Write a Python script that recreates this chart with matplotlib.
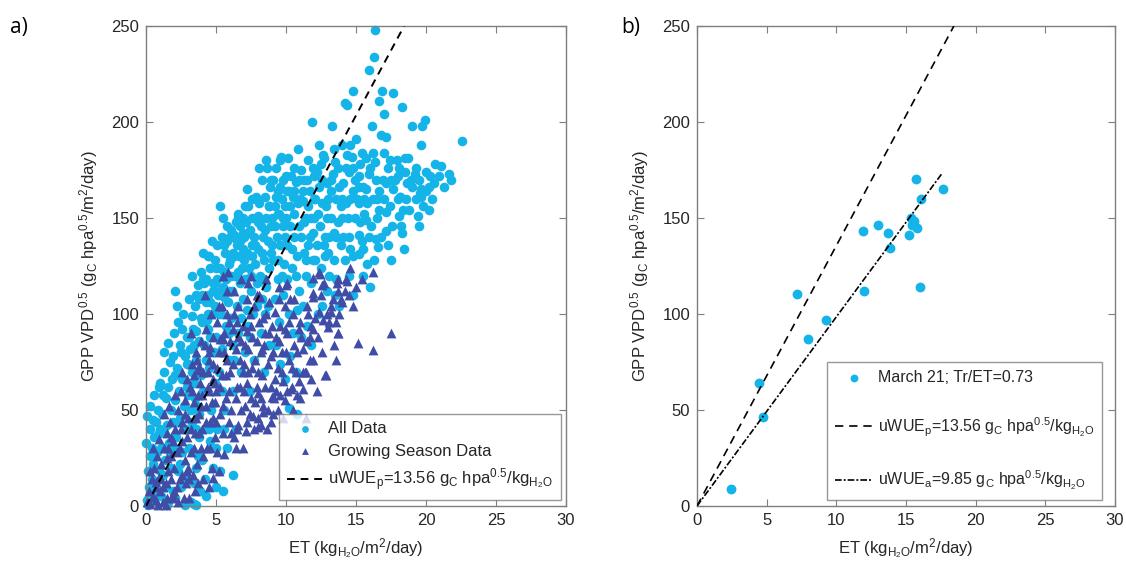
import numpy as np
import matplotlib
matplotlib.use("Agg")
import matplotlib.pyplot as plt

plt.rcParams['font.family'] = ['Liberation Sans', 'DejaVu Sans']
plt.rcParams['mathtext.default'] = 'regular'

# ---- panel a: all data (ET, GPP*VPD^0.5) ----
all_data = [
    # 0-1
    (0.0,33),(0.05,47),(0.1,3),(0.15,18),(0.2,10),(0.25,26),(0.3,40),(0.35,6),(0.4,14),(0.45,30),
    (0.5,22),(0.55,2),(0.6,36),(0.65,12),(0.7,44),(0.75,28),(0.8,8),(0.85,50),(0.9,19),(0.95,38),
    (0.3,52),(0.6,58),(0.9,62),(0.15,0.5),(0.5,45),
    # 1-2
    (1.0,64),(1.05,30),(1.1,5),(1.15,48),(1.2,16),(1.25,70),(1.3,38),(1.35,24),(1.4,56),(1.45,10),
    (1.5,42),(1.55,62),(1.6,2),(1.65,33),(1.7,75),(1.75,20),(1.8,50),(1.85,66),(1.9,8),(1.95,44),
    (1.3,80),(1.6,85),(1.9,78),(1.2,58),(1.7,28),(1.5,0.5),(1.0,40),(1.4,30),
    # 2-3
    (2.07,112),(2.0,90),(2.05,55),(2.1,4),(2.15,36),(2.2,72),(2.25,18),(2.3,96),(2.35,60),(2.4,46),
    (2.45,84),(2.5,10),(2.55,66),(2.6,28),(2.65,100),(2.7,52),(2.75,78),(2.8,0.5),(2.85,40),(2.9,88),
    (2.95,62),(2.2,104),(2.6,92),(2.9,74),(2.4,22),(2.8,14),(2.5,80),(2.1,68),(2.0,30),(2.3,44),(2.7,40),
    # 3-4
    (3.26,99),(3.0,58),(3.05,108),(3.1,30),(3.15,82),(3.2,2),(3.25,70),(3.3,44),(3.35,92),(3.4,1),
    (3.45,64),(3.5,104),(3.55,20),(3.57,91),(3.6,76),(3.65,52),(3.7,115),(3.75,36),(3.8,86),(3.85,8),
    (3.9,98),(3.95,68),(3.3,120),(3.6,110),(3.9,122),(3.1,88),(3.5,56),(3.8,48),(3.4,12),(3.7,26),
    (3.57,0.5),(3.0,74),(3.4,84),(3.8,108),(3.2,50),(3.6,40),
    # 4-5
    (4.0,96),(4.05,118),(4.1,60),(4.15,84),(4.17,116),(4.2,40),(4.25,106),(4.29,118),(4.3,5),(4.33,97),
    (4.4,110),(4.45,130),(4.5,72),(4.55,88),(4.52,130),(4.6,124),(4.65,50),(4.7,100),(4.75,112),(4.8,20),
    (4.85,80),(4.9,128),(4.95,64),(4.1,132),(4.4,92),(4.7,138),(4.9,104),(4.3,76),(4.6,34),(4.8,116),
    (4.2,14),(5.0,10),(4.0,110),(4.4,100),(4.6,106),(4.9,116),(4.0,24),(4.5,40),
    # 5-6
    (5.05,118),(5.12,110),(5.29,156),(5.0,88),(5.1,136),(5.2,70),(5.3,124),(5.35,100),(5.4,140),(5.45,82),
    (5.5,114),(5.55,50),(5.6,122),(5.6,109),(5.65,132),(5.7,94),(5.75,146),(5.8,30),(5.85,106),(5.9,126),
    (5.95,76),(5.2,100),(5.5,150),(5.8,138),(5.4,60),(5.7,118),(5.1,40),(5.9,90),(5.3,18),(5.5,8),
    (5.0,124),(5.3,112),(5.6,136),(5.9,112),(5.0,30),(5.6,40),
    # 6-7
    (6.0,128),(6.05,98),(6.1,144),(6.15,112),(6.2,84),(6.25,132),(6.31,141),(6.35,120),(6.43,139),(6.5,104),
    (6.55,150),(6.6,90),(6.67,130),(6.7,116),(6.75,146),(6.8,70),(6.85,124),(6.9,150),(6.95,108),(6.2,60),
    (6.5,136),(6.8,98),(6.4,40),(6.9,134),(6.1,120),(6.6,152),(6.3,76),(6.2,16),
    (6.0,140),(6.3,130),(6.6,122),(6.9,142),(6.4,148),(6.7,138),
    # 7-8
    (7.0,140),(7.05,118),(7.14,148),(7.2,102),(7.25,132),(7.3,156),(7.35,124),(7.4,88),(7.45,144),(7.5,112),
    (7.55,136),(7.6,160),(7.65,100),(7.74,140),(7.8,126),(7.86,161),(7.9,116),(7.95,150),(7.98,151),(7.1,80),
    (7.4,60),(7.7,76),(7.2,165),(7.6,130),(7.9,104),(7.3,94),(7.0,128),(7.3,142),(7.6,150),(7.8,136),
    (7.5,120),(7.1,156),
    # 8-9
    (8.0,134),(8.1,158),(8.15,120),(8.2,146),(8.25,108),(8.3,170),(8.35,140),(8.4,128),(8.5,161),(8.55,150),
    (8.6,114),(8.65,176),(8.7,138),(8.75,156),(8.8,124),(8.85,166),(8.9,146),(8.95,132),(8.2,90),(8.5,100),
    (8.8,84),(8.4,70),(8.7,104),(8.1,176),(8.6,180),(8.0,148),(8.3,132),(8.5,144),(8.8,156),
    (8.4,118),(8.9,170),
    # 9-10
    (9.0,150),(9.05,170),(9.1,128),(9.21,156),(9.29,176),(9.29,161),(9.35,140),(9.4,164),(9.45,118),(9.5,152),
    (9.55,180),(9.6,136),(9.67,182),(9.7,160),(9.75,146),(9.8,170),(9.85,126),(9.9,156),(9.95,140),(9.2,108),
    (9.5,96),(9.8,110),(9.3,84),(9.6,74),(9.9,66),(9.0,136),(9.2,146),(9.4,152),(9.6,166),(9.8,150),
    (9.4,128),(9.7,120),
    # 10-11
    (10.0,150),(10.12,181),(10.05,164),(10.1,136),(10.24,164),(10.3,146),(10.35,172),(10.4,124),(10.48,161),
    (10.55,140),(10.6,152),(10.69,169),(10.75,130),(10.83,186),(10.85,158),(10.9,146),(10.95,112),(10.2,100),
    (10.5,90),(10.8,102),(10.3,78),(10.7,70),(10.1,118),(10.6,176),(10.2,51),(10.8,48),
    (10.0,172),(10.3,156),(10.6,164),(10.9,170),(10.4,134),(10.7,120),
    # 11-12
    (11.07,175),(11.0,160),(11.1,140),(11.19,159),(11.25,148),(11.3,170),(11.4,128),(11.5,170),(11.55,156),
    (11.6,136),(11.7,164),(11.75,116),(11.86,200),(11.8,150),(11.9,176),(11.95,142),(11.2,104),(11.5,94),
    (11.8,84),(11.4,120),(11.6,180),(11.1,88),(11.2,164),(11.4,150),(11.7,140),(11.3,132),(11.9,128),
    # 12-13
    (12.02,172),(12.0,150),(12.1,160),(12.2,136),(12.36,188),(12.38,166),(12.4,146),(12.5,124),(12.6,158),
    (12.67,183),(12.74,181),(12.8,140),(12.86,156),(12.9,168),(12.95,112),(12.3,100),(12.6,104),(12.2,174),
    (12.5,178),(12.8,130),(12.0,160),(12.3,152),(12.6,170),(12.9,150),(12.1,128),(12.7,136),
    # 13-14
    (13.0,160),(13.1,140),(13.2,150),(13.31,198),(13.33,173),(13.4,128),(13.5,179),(13.55,160),(13.6,118),
    (13.7,148),(13.81,166),(13.9,136),(13.95,156),(13.2,170),(13.5,110),(13.8,104),(13.4,186),(13.7,176),
    (13.1,120),(13.2,164),(13.6,140),(13.0,132),(13.4,142),
    # 14-15
    (14.02,188),(14.0,150),(14.1,168),(14.24,210),(14.29,158),(14.38,209),(14.38,183),(14.48,174),(14.5,140),
    (14.57,188),(14.6,160),(14.71,182),(14.76,216),(14.76,164),(14.8,130),(14.9,150),(14.2,128),(14.5,120),
    (14.8,110),(14.3,176),(14.9,170),(14.0,160),(14.4,150),(14.8,176),(14.1,140),(14.6,134),
    # 15-16
    (15.0,191),(15.1,160),(15.24,172),(15.24,158),(15.26,178),(15.3,148),(15.4,138),(15.48,134),(15.5,166),
    (15.6,152),(15.71,181),(15.71,165),(15.71,149),(15.8,126),(15.93,227),(15.95,173),(15.24,141),(15.24,131),
    (15.5,120),(15.9,140),(15.4,184),(15.8,158),(15.2,166),(15.6,160),
    # 16-17
    (16.0,114),(16.12,198),(16.19,160),(16.26,234),(16.36,248),(16.38,179),(16.43,170),(16.43,139),(16.55,135),
    (16.64,211),(16.67,164),(16.67,154),(16.81,193),(16.83,216),(16.98,204),(16.98,184),(16.1,146),(16.3,128),
    (16.5,150),(16.8,140),(16.9,170),(16.2,184),(16.0,176),(16.5,160),
    # 17-18
    (17.14,192),(17.14,168),(17.14,153),(17.14,143),(17.29,176),(17.45,180),(17.62,165),(17.67,215),(17.4,156),
    (17.8,170),(17.3,136),(17.6,146),(17.9,180),(17.5,128),(17.0,160),(17.5,170),
    # 18-19
    (18.0,172),(18.1,176),(18.1,151),(18.14,161),(18.17,161),(18.21,146),(18.26,208),(18.26,142),(18.33,154),
    (18.48,181),(18.62,168),(18.74,181),(18.81,154),(18.4,134),(18.6,160),(18.9,170),(18.0,160),(18.5,174),
    # 19-20
    (19.02,198),(19.19,173),(19.29,176),(19.4,151),(19.57,163),(19.64,188),(19.64,161),(19.67,165),(19.74,198),
    (19.9,201),(19.3,160),(19.5,146),(19.8,156),(19.0,166),(19.5,170),
    # 20+
    (20.0,174),(20.24,166),(20.67,178),(20.9,172),(20.4,160),(20.6,168),(20.2,154),(20.0,164),(20.3,172),
    (21.05,177),(21.62,173),(22.57,190),(21.3,166),(21.8,170),
]

# ---- panel a: growing season subset ----
growing_data = [
    (0.1,2),(0.2,8),(0.3,1),(0.4,14),(0.5,5),(0.6,20),(0.7,10),(0.8,26),(0.88,0.5),(0.9,15),
    (0.5,30),(0.3,18),(0.7,3),(0.95,35),(0.71,12.7),(0.48,4.9),
    (1.0,8),(1.1,22),(1.2,2),(1.3,30),(1.4,12),(1.48,4),(1.5,38),(1.6,18),(1.7,44),(1.8,26),
    (1.9,6),(1.95,34),(1.25,48),(1.65,52),(1.4,0.5),(1.8,14),(1.9,4),
    (1.2,10),(1.5,25),(1.8,36),(1.1,14),(1.6,30),
    (2.0,20),(2.1,40),(2.2,10),(2.3,50),(2.4,30),(2.5,60),(2.55,16),(2.6,44),(2.7,4),(2.75,55),
    (2.8,24),(2.9,66),(2.95,36),(2.3,2),(2.6,70),(2.1,58),(2.85,12),
    (2.0,8),(2.2,28),(2.4,14),(2.6,34),(2.8,48),(2.9,18),(2.5,40),
    (3.0,46),(3.1,4),(3.15,62),(3.2,28),(3.3,74),(3.35,16),(3.4,54),(3.5,38),(3.55,80),(3.62,76),
    (3.65,22),(3.74,71),(3.8,48),(3.85,64),(3.9,30),(3.95,86),(3.2,90),(3.5,8),(3.7,58),(3.45,68),
    (3.81,73),(3.0,20),(3.2,40),(3.4,30),(3.6,46),(3.8,38),(3.3,60),(3.9,52),(3.1,14),(3.7,12),
    (4.0,40),(4.05,70),(4.1,14),(4.2,84),(4.25,52),(4.3,92),(4.35,30),(4.4,62),(4.5,76),(4.57,83),
    (4.6,44),(4.65,100),(4.7,20),(4.75,66),(4.8,88),(4.9,54),(4.95,36),(4.2,110),(4.5,10),(4.8,74),
    (4.76,14.4),(4.52,80),(4.0,58),(4.1,26),(4.3,44),(4.5,60),(4.6,30),(4.8,46),(4.9,64),(4.4,70),(4.7,54),
    (5.0,60),(5.05,96),(5.1,28),(5.2,80),(5.29,87),(5.3,48),(5.4,104),(5.45,68),(5.5,38),(5.6,90),
    (5.7,56),(5.75,112),(5.8,76),(5.88,122),(5.9,44),(5.95,96),(5.2,18),(5.6,27),(5.5,120),(5.48,87),
    (5.0,44),(5.1,72),(5.3,62),(5.4,88),(5.5,52),(5.7,68),(5.8,100),(5.9,60),(5.6,80),(5.2,104),
    (6.0,70),(6.1,50),(6.2,92),(6.3,36),(6.4,82),(6.48,40),(6.5,62),(6.6,104),(6.7,76),(6.8,50),
    (6.9,94),(6.95,30),(6.3,112),(6.6,88),(6.8,118),(6.43,30),
    (6.0,86),(6.1,38),(6.2,74),(6.4,56),(6.5,96),(6.6,42),(6.7,62),(6.8,86),(6.9,70),(6.3,100),
    (7.0,60),(7.1,84),(7.19,91),(7.19,44),(7.3,70),(7.4,100),(7.5,56),(7.6,88),(7.7,40),(7.8,76),
    (7.9,110),(7.95,62),(7.3,116),(7.62,47),(7.5,120),(7.14,39),
    (7.0,74),(7.1,52),(7.2,64),(7.3,82),(7.4,48),(7.5,94),(7.6,72),(7.7,104),(7.8,54),(7.9,86),(7.2,108),
    (8.02,59),(8.02,41),(8.14,109),(8.2,80),(8.3,68),(8.38,98),(8.38,52),(8.5,90),(8.62,40),(8.7,74),
    (8.8,106),(8.9,62),(8.98,57),(8.6,118),(8.4,84),(8.1,110),(8.33,49),(8.21,42),(8.93,44),
    (8.0,70),(8.1,96),(8.2,56),(8.3,82),(8.5,62),(8.6,100),(8.7,50),(8.8,90),(8.9,78),(8.0,46),
    (9.1,48),(9.21,101),(9.3,88),(9.4,72),(9.57,94),(9.6,58),(9.7,80),(9.81,65),(9.93,55),(9.9,104),
    (9.5,114),(9.2,66),(9.8,46),(9.52,108),(9.4,50),(9.12,56),
    (9.0,94),(9.1,80),(9.3,60),(9.5,86),(9.7,70),(9.9,92),
    (10.05,116),(10.1,90),(10.2,76),(10.4,62),(10.5,100),(10.6,84),(10.7,70),(10.9,92),(10.5,50),
    (10.3,108),(10.8,58),(10.0,115),(10.36,61),
    (10.0,80),(10.2,96),(10.4,72),(10.6,108),(10.8,80),(10.9,65),(10.1,60),
    (11.0,56),(11.24,61),(11.36,70),(11.5,86),(11.6,100),(11.7,76),(11.95,109),(11.95,76),(11.95,119),
    (11.8,94),(11.2,82),(11.4,46),(11.07,88),(11.9,111),(11.9,92),(11.43,70),
    (11.0,96),(11.2,70),(11.5,104),(11.7,88),(11.8,66),
    (12.43,121),(12.1,98),(12.3,88),(12.5,110),(12.79,68),(12.6,80),(12.9,100),(12.2,60),(12.7,116),
    (12.38,122),(12.57,115),(12.38,101),(12.62,97),(12.98,93),(12.86,68),
    (13.62,116),(13.74,90),(13.2,104),(13.4,84),(13.6,76),(13.9,108),(13.1,96),(13.8,100),
    (13.69,118),(13.74,112),(13.33,108),(13.21,101),(13.57,96),(13.69,90),
    (14.0,106),(14.33,117),(14.57,124),(14.2,112),(14.5,110),(14.8,104),(14.29,118),
    (15.17,85),(16.19,81),(16.19,122),(17.48,90),(15.0,114),(15.4,118),
]

# ---- panel b: March 21 ----
march_et = [2.47, 4.44, 4.75, 7.19, 7.99, 9.23, 11.94, 12.01, 12.97, 13.74,
            13.84, 15.20, 15.35, 15.42, 15.59, 15.71, 15.80, 16.00, 16.07, 17.65]
march_gpp = [8.8, 64.1, 46.3, 110.6, 86.8, 96.8, 143.0, 111.9, 146.5, 142.3,
             134.4, 141.3, 150.2, 146.3, 148.6, 170.5, 144.8, 113.9, 159.9, 165.1]

uwue_p = 13.56
uwue_a = 9.85
et_line_p = [0, 250 / uwue_p]
et_line_a = [0, 17.6]

light = '#14B4E8'
dark = '#3F4DA6'
grey = '#7f7f7f'
txt = '#262626'

ylab = r'GPP VPD$^{0.5}$ (g$_C$ hpa$^{0.5}$/m$^2$/day)'
xlab = r'ET (kg$_{H_2O}$/m$^2$/day)'
lab_p = r'uWUE$_p$=13.56 g$_C$ hpa$^{0.5}$/kg$_{H_2O}$'
lab_a = r'uWUE$_a$=9.85 g$_C$ hpa$^{0.5}$/kg$_{H_2O}$'

fig = plt.figure(figsize=(11.26, 5.77), dpi=100)
ax1 = fig.add_axes([146 / 1126, 71 / 577, 420 / 1126, 480 / 577])
ax2 = fig.add_axes([697 / 1126, 71 / 577, 418 / 1126, 480 / 577])


def style(ax):
    ax.set_xlim(0, 30)
    ax.set_ylim(0, 250)
    ax.set_xticks(range(0, 31, 5))
    ax.set_yticks(range(0, 251, 50))
    for s in ax.spines.values():
        s.set_color(grey)
        s.set_linewidth(1.0)
    ax.tick_params(direction='in', length=5, width=0.8, color=grey,
                   labelsize=12, labelcolor=txt, top=True, right=True, pad=5)
    ax.set_xlabel(xlab, fontsize=12, color=txt, labelpad=6)
    ax.set_ylabel(ylab, fontsize=12, color=txt, labelpad=8)


a = np.array(all_data)
g = np.array(growing_data)

ax1.scatter(a[:, 0], a[:, 1], s=48, c=light, marker='o', linewidths=0,
            label='All Data', clip_on=False, zorder=2)
ax1.scatter(g[:, 0], g[:, 1], s=50, c=dark, marker='^', linewidths=0,
            label='Growing Season Data', clip_on=False, zorder=3)
ax1.plot(et_line_p, [uwue_p * x for x in et_line_p], color='black', lw=1.4,
         dashes=(4, 3), label=lab_p, zorder=4)
style(ax1)
leg1 = ax1.legend(loc='lower right', bbox_to_anchor=(0.987, 0.012), borderaxespad=0,
                  fontsize=12, frameon=True, fancybox=False, edgecolor=grey,
                  handlelength=2.2, handletextpad=0.3, labelspacing=0.45,
                  borderpad=0.45, markerscale=0.7)
leg1.get_frame().set_linewidth(1.0)
for t in leg1.get_texts():
    t.set_color(txt)

ax2.scatter(march_et, march_gpp, s=50, c=light, marker='o', linewidths=0,
            label='March 21; Tr/ET=0.73', zorder=3)
ax2.plot(et_line_p, [uwue_p * x for x in et_line_p], color='black', lw=1.2,
         dashes=(5, 3.5), label=lab_p, zorder=4)
ax2.plot(et_line_a, [uwue_a * x for x in et_line_a], color='black', lw=1.2,
         dashes=(4, 1.2, 1.2, 1.2), label=lab_a, zorder=4)
style(ax2)
leg2 = ax2.legend(loc='lower right', bbox_to_anchor=(0.969, 0.012), borderaxespad=0,
                  fontsize=11.5, frameon=True, fancybox=False, edgecolor=grey,
                  handlelength=2.4, handletextpad=0.3, labelspacing=1.9,
                  borderpad=0.5, markerscale=0.8)
leg2.get_frame().set_linewidth(1.0)
for t in leg2.get_texts():
    t.set_color(txt)

fig.text(10 / 1126, 1 - 28 / 577, 'a)', fontsize=15, family=['Open Sans', 'DejaVu Sans'],
         color='black', va='center')
fig.text(621 / 1126, 1 - 28 / 577, 'b)', fontsize=15, family=['Open Sans', 'DejaVu Sans'],
         color='black', va='center')

fig.savefig('out.png', dpi=100, facecolor='white')
